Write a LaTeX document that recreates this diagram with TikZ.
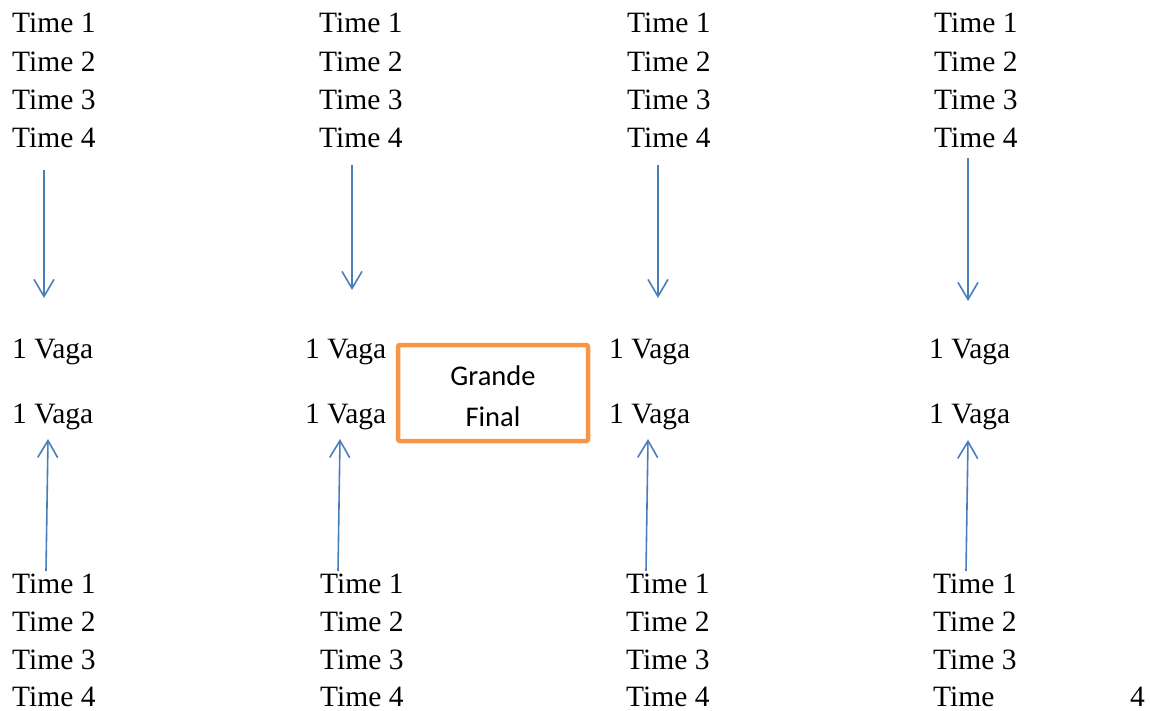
\documentclass[tikz,border=0pt]{standalone}
\usepackage{fontspec}
\setmainfont{Liberation Serif}
\newfontfamily\boxfont{Carlito}
\usetikzlibrary{arrows.meta}
\definecolor{arrblue}{HTML}{4A7EBB}
\definecolor{boxorange}{HTML}{F79646}
\begin{document}
\begin{tikzpicture}[x=1pt,y=-1pt,
  lbl/.style={anchor=base west, inner sep=0pt, font=\fontsize{29.5}{31}\selectfont},
  boxtxt/.style={anchor=base, inner sep=0pt, font=\boxfont\fontsize{28.5}{30}\selectfont},
  arr/.style={draw=arrblue, line width=1.6pt, -{Straight Barb[length=17pt,width=20pt]}},
  finalbox/.style={draw=boxorange, line width=4.5pt, rounded corners=2pt, minimum width=190pt, minimum height=96pt, inner sep=0pt}]
\useasboundingbox (0,0) rectangle (1150,711);
% top teams
\node[lbl] (a1) at (12,33) {Time 1};
\node[lbl] (a2) at (12,71.5) {Time 2};
\node[lbl] (a3) at (12,110) {Time 3};
\node[lbl] (a4) at (12,148) {Time 4};
\node[lbl] (b1) at (319,33) {Time 1};
\node[lbl] (b2) at (319,71.5) {Time 2};
\node[lbl] (b3) at (319,110) {Time 3};
\node[lbl] (b4) at (319,148) {Time 4};
\node[lbl] (c1) at (627,33) {Time 1};
\node[lbl] (c2) at (627,71.5) {Time 2};
\node[lbl] (c3) at (627,110) {Time 3};
\node[lbl] (c4) at (627,148) {Time 4};
\node[lbl] (d1) at (934,33) {Time 1};
\node[lbl] (d2) at (934,71.5) {Time 2};
\node[lbl] (d3) at (934,110) {Time 3};
\node[lbl] (d4) at (934,148) {Time 4};
% vagas
\node[lbl] (va1) at (12,358) {1 Vaga};
\node[lbl] (va2) at (12,423) {1 Vaga};
\node[lbl] (vb1) at (305,358) {1 Vaga};
\node[lbl] (vb2) at (305,423) {1 Vaga};
\node[lbl] (vc1) at (609,358) {1 Vaga};
\node[lbl] (vc2) at (609,423) {1 Vaga};
\node[lbl] (vd1) at (929,358) {1 Vaga};
\node[lbl] (vd2) at (929,423) {1 Vaga};
% bottom teams
\node[lbl] (e1) at (12,593) {Time 1};
\node[lbl] (e2) at (12,631.5) {Time 2};
\node[lbl] (e3) at (12,669.5) {Time 3};
\node[lbl] (e4) at (12,706.5) {Time 4};
\node[lbl] (f1) at (320,593) {Time 1};
\node[lbl] (f2) at (320,631.5) {Time 2};
\node[lbl] (f3) at (320,669.5) {Time 3};
\node[lbl] (f4) at (320,706.5) {Time 4};
\node[lbl] (g1) at (626,593) {Time 1};
\node[lbl] (g2) at (626,631.5) {Time 2};
\node[lbl] (g3) at (626,669.5) {Time 3};
\node[lbl] (g4) at (626,706.5) {Time 4};
\node[lbl] (h1) at (933,593) {Time 1};
\node[lbl] (h2) at (933,631.5) {Time 2};
\node[lbl] (h3) at (933,669.5) {Time 3};
\node[lbl] (h4) at (933,706.5) {Time};
\node[lbl] (h4n) at (1130,706.5) {4};
% grande final
\node[finalbox] (gf) at (493,393) {};
\node[boxtxt] (gft1) at (493,385) {Grande};
\node[boxtxt] (gft2) at (493,426) {Final};
% arrow end points
\coordinate (ad0) at (44,170);  \coordinate (ad1) at (44,298);
\coordinate (bd0) at (352,165); \coordinate (bd1) at (352,290);
\coordinate (cd0) at (658,165); \coordinate (cd1) at (658,298);
\coordinate (dd0) at (968,158); \coordinate (dd1) at (968,301);
\coordinate (eu0) at (46,571);  \coordinate (eu1) at (48,439);
\coordinate (fu0) at (338,571); \coordinate (fu1) at (340,439);
\coordinate (gu0) at (646,571); \coordinate (gu1) at (648,439);
\coordinate (hu0) at (966,571); \coordinate (hu1) at (968,440);
\draw[arr] (ad0) -- (ad1);
\draw[arr] (bd0) -- (bd1);
\draw[arr] (cd0) -- (cd1);
\draw[arr] (dd0) -- (dd1);
\draw[arr] (eu0) -- (eu1);
\draw[arr] (fu0) -- (fu1);
\draw[arr] (gu0) -- (gu1);
\draw[arr] (hu0) -- (hu1);
\end{tikzpicture}
\end{document}
